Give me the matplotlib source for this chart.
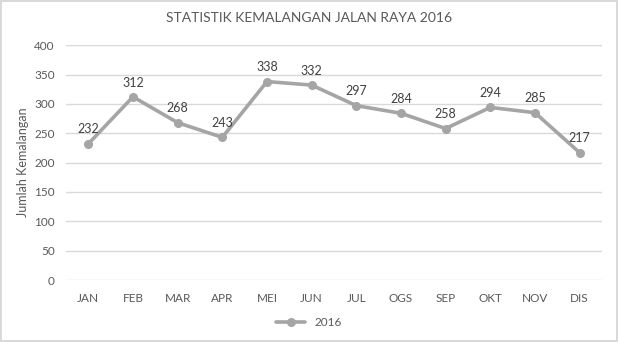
import matplotlib.pyplot as plt

plt.rcParams['font.family'] = ['Lato', 'DejaVu Sans']

months = ['JAN', 'FEB', 'MAR', 'APR', 'MEI', 'JUN', 'JUL', 'OGS', 'SEP', 'OKT', 'NOV', 'DIS']
accidents = [232, 312, 268, 243, 338, 332, 297, 284, 258, 294, 285, 217]

text_col = '#595959'
line_col = '#A5A5A5'
grid_col = '#D9D9D9'

fig = plt.figure(figsize=(6.18, 3.42), dpi=100)
fig.patch.set_edgecolor('#D9D9D9')
fig.patch.set_linewidth(1.5)
ax = fig.add_axes([0.1068, 0.181, 0.8672, 0.687])

x = range(len(months))
ax.plot(x, accidents, color=line_col, lw=2.6, marker='o', ms=5.5,
        solid_capstyle='round', label='2016')

for i, v in zip(x, accidents):
    ax.annotate(str(v), (i, v), xytext=(0, 6), textcoords='offset points',
                ha='center', va='bottom', fontsize=9, color='#404040')

ax.set_xlim(-0.5, len(months) - 0.5)
ax.set_ylim(0, 400)
ax.set_yticks(range(0, 401, 50))
ax.set_xticks(list(x))
ax.set_xticklabels(months)
ax.grid(axis='y', color=grid_col, lw=1)
ax.set_axisbelow(True)
for s in ax.spines.values():
    s.set_visible(False)
ax.tick_params(length=0, colors=text_col, labelsize=8.5)
ax.tick_params(axis='y', pad=8)
ax.tick_params(axis='x', pad=9)

ax.set_ylabel('Jumlah Kemalangan', color=text_col, fontsize=9, labelpad=4)
fig.text(0.5, 0.947, 'STATISTIK KEMALANGAN JALAN RAYA 2016', ha='center',
         va='center', fontsize=10, color=text_col)

fig.legend(loc='center', bbox_to_anchor=(0.5, 0.058), frameon=False,
           fontsize=8.5, labelcolor=text_col, handlelength=2.5)

fig.savefig('out.png', dpi=100, edgecolor=fig.get_edgecolor())
